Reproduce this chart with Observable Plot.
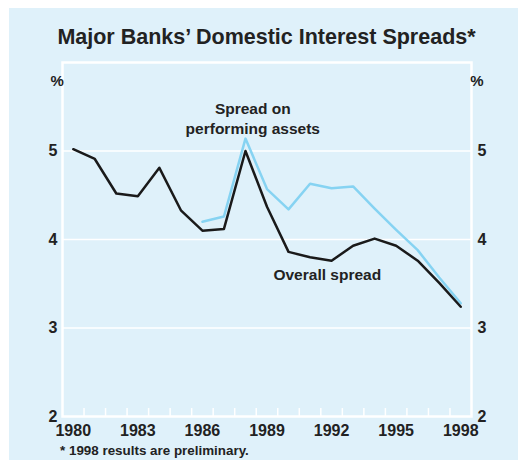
<!DOCTYPE html>
<html><head><meta charset="utf-8">
<script src="https://cdn.jsdelivr.net/npm/d3@7"></script>
<script src="https://cdn.jsdelivr.net/npm/@observablehq/plot@0.6"></script>
<style>
body{margin:0;background:#fff;font-family:"Liberation Sans",Arial,sans-serif;}
#panel{position:absolute;left:9px;top:8px;width:509px;height:452px;background:#dff1fa;}
#title{position:absolute;left:0;top:25px;width:533px;text-align:center;font-weight:bold;font-size:21.5px;color:#222;}
#chart{position:absolute;left:0;top:50px;}
#note{position:absolute;left:60px;top:443px;font-weight:bold;font-size:13.4px;line-height:15px;color:#222;}
</style></head><body>
<div id="panel"></div>
<div id="title">Major Banks’ Domestic Interest Spreads*</div>
<div id="chart"></div>
<div id="note">* 1998 results are preliminary.</div>
<script>
const years = [1980,1981,1982,1983,1984,1985,1986,1987,1988,1989,1990,1991,1992,1993,1994,1995,1996,1997,1998];
const overall = [5.02,4.91,4.52,4.49,4.81,4.33,4.10,4.12,5.00,4.37,3.86,3.80,3.76,3.93,4.01,3.93,3.76,3.51,3.24];
const perfYears = [1986,1987,1988,1989,1990,1991,1992,1993,1994,1995,1996,1997,1998];
const performing = [4.20,4.26,5.14,4.57,4.34,4.63,4.58,4.60,4.35,4.11,3.88,3.57,3.28];
const yearLabels = [1980,1983,1986,1989,1992,1995,1998];
const yearBounds = [1981,1982,1983,1984,1985,1986,1987,1988,1989,1990,1991,1992,1993,1994,1995,1996,1997,1998];
const yLabels = [2,3,4,5];
const gridValues = [3,4,5];

const overallData = years.map((y,i)=>({year:y+0.5, value:overall[i]}));
const perfData = perfYears.map((y,i)=>({year:y+0.5, value:performing[i]}));
const ink = "#222";

const chart = Plot.plot({
  width: 518,
  height: 395,
  marginLeft: 62,
  marginRight: 47,
  marginTop: 12,
  marginBottom: 29,
  style: {background: "transparent", fontFamily: "'Liberation Sans', Arial, sans-serif"},
  x: {domain: [1980, 1999], axis: null},
  y: {domain: [2, 6], axis: null},
  marks: [
    Plot.ruleY(gridValues, {stroke: "white", strokeWidth: 1.5}),
    Plot.ruleX(yearBounds, {y1: 2, y2: 2.09, stroke: "white", strokeWidth: 1.5}),
    Plot.frame({stroke: "white", strokeWidth: 2.5}),
    Plot.line(perfData, {x: "year", y: "value", stroke: "#86d3f2", strokeWidth: 2.5}),
    Plot.line(overallData, {x: "year", y: "value", stroke: "#1a1a1a", strokeWidth: 2.5}),
    Plot.text(yearLabels, {x: d => d + 0.5, y: () => 2, text: d => String(d), dy: 14, fontSize: 16, fontWeight: "bold", fill: ink}),
    Plot.text(yLabels, {x: () => 1980, y: d => d, text: d => String(d), dx: -5, textAnchor: "end", fontSize: 16, fontWeight: "bold", fill: ink}),
    Plot.text(yLabels, {x: () => 1999, y: d => d, text: d => String(d), dx: 6, textAnchor: "start", fontSize: 16, fontWeight: "bold", fill: ink}),
    Plot.text(["%"], {frameAnchor: "top-left", dx: -12, dy: 13, fontSize: 15, fontWeight: "bold", fill: ink}),
    Plot.text(["%"], {frameAnchor: "top-right", dx: 12, dy: 13, fontSize: 15, fontWeight: "bold", fill: ink}),
    Plot.text(["Spread on\nperforming assets"], {x: 1988.84, y: 5.38, fontSize: 15.5, fontWeight: "bold", fill: ink, lineHeight: 1.3}),
    Plot.text(["Overall spread"], {x: 1992.3, y: 3.6, fontSize: 15.5, fontWeight: "bold", fill: ink})
  ]
});
document.getElementById("chart").appendChild(chart);
</script>
</body></html>
